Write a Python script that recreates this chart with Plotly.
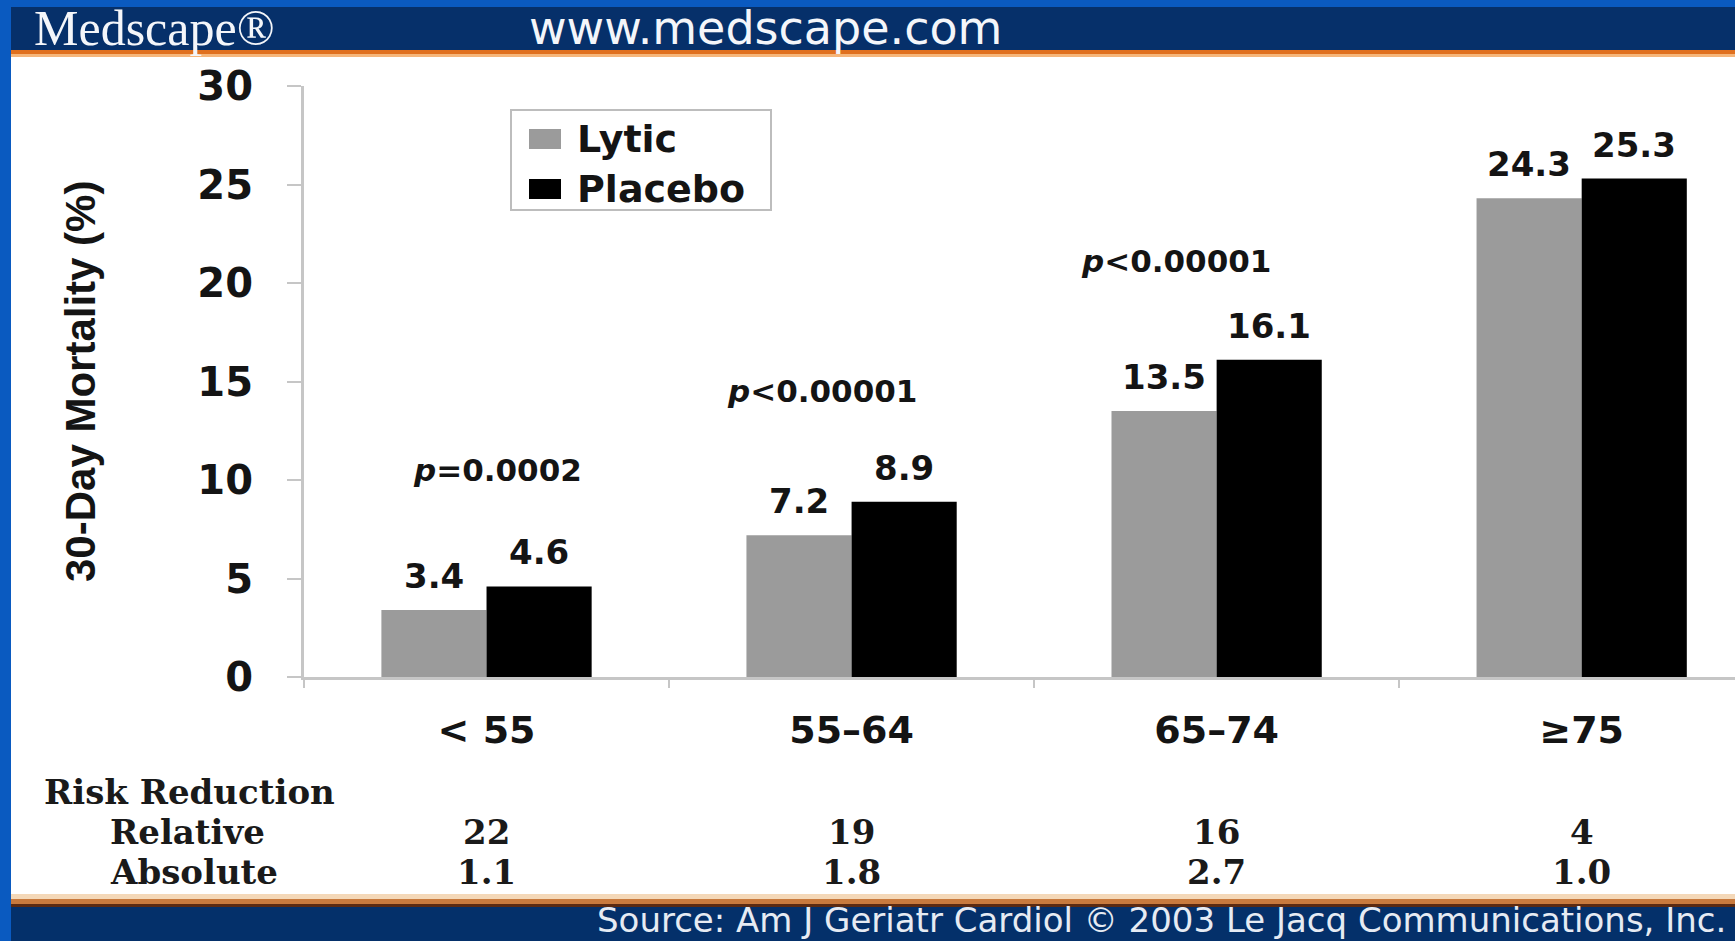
import plotly.graph_objects as go

# ---- data -------------------------------------------------------------
age_groups = ["< 55", "55–64", "65–74", "≥75"]
lytic = [3.4, 7.2, 13.5, 24.3]
placebo = [4.6, 8.9, 16.1, 25.3]
p_labels = ["<i>p</i>=0.0002", "<i>p</i>&lt;0.00001", "<i>p</i>&lt;0.00001", "<i>p</i>=NS"]
relative_reduction = [22, 19, 16, 4]
absolute_reduction = [1.1, 1.8, 2.7, 1.0]
y_ticks = [0, 5, 10, 15, 20, 25, 30]

# ---- page geometry ----------------------------------------------------
W, H = 1735, 941
ML, MR, MT, MB = 304, 0, 86, 264
PW, PH = W - ML - MR, H - MT - MB

# p-value label anchors (x in category units, y in axis units)
p_label_xy = [(0.03, 10.5), (0.92, 14.5), (1.89, 21.1), (2.95, 30.45)]
BAR_OFFSET = 0.144

SANS = "DejaVu Sans"
SERIF_TABLE = "DejaVu Serif"
INK = "#141414"
AXIS_GREY = "#c6c6c6"
LYTIC_GREY = "#9b9b9b"
PLACEBO_BLACK = "#000000"


def px_x(px):
    return (px - ML) / PW


def px_y(py):
    return (H - MB - py) / PH


fig = go.Figure()
fig.add_trace(go.Bar(name="Lytic", x=age_groups, y=lytic, showlegend=False,
                     marker=dict(color=LYTIC_GREY, line=dict(width=0))))
fig.add_trace(go.Bar(name="Placebo", x=age_groups, y=placebo, showlegend=False,
                     marker=dict(color=PLACEBO_BLACK, line=dict(width=0))))

annotations = []

# bar value labels
for i, (a, b) in enumerate(zip(lytic, placebo)):
    for xv, yv in ((i - BAR_OFFSET, a), (i + BAR_OFFSET, b)):
        annotations.append(dict(
            x=xv, y=yv, xref="x", yref="y", text=f"{yv:.1f}",
            showarrow=False, yanchor="bottom", yshift=12,
            font=dict(family=SANS, size=34, color=INK, weight="bold")))

# significance labels
for (xv, yv), txt in zip(p_label_xy, p_labels):
    annotations.append(dict(
        x=xv, y=yv, xref="x", yref="y", text=txt, showarrow=False,
        yanchor="middle", font=dict(family=SANS, size=31, color=INK, weight="bold")))

# y-axis title
annotations.append(dict(
    x=px_x(80), y=px_y(382), xref="paper", yref="paper",
    xanchor="center", yanchor="middle",
    text="30-Day Mortality (%)", textangle=-90, showarrow=False,
    font=dict(family="Liberation Sans Narrow, Liberation Sans", size=42,
              color=INK, weight="bold")))


def label(px, py, text, font, xanchor="left"):
    return dict(x=px_x(px), y=px_y(py), xref="paper", yref="paper",
                xanchor=xanchor, yanchor="middle", text=text,
                showarrow=False, font=font)


# risk reduction table
table_font = dict(family=SERIF_TABLE, size=34, color="#1a1a1a", weight="bold")
annotations.append(label(42, 792, "Risk Reduction", table_font))
annotations.append(label(108, 832, "Relative", table_font))
annotations.append(label(108, 872, "Absolute", table_font))
for i, (rel, ab) in enumerate(zip(relative_reduction, absolute_reduction)):
    annotations.append(dict(x=i, y=px_y(832), xref="x", yref="paper",
                            xanchor="center", yanchor="middle",
                            text=f"{rel}", showarrow=False, font=table_font))
    annotations.append(dict(x=i, y=px_y(872), xref="x", yref="paper",
                            xanchor="center", yanchor="middle",
                            text=f"{ab:.1f}", showarrow=False, font=table_font))

# legend
legend_font = dict(family=SANS, size=38, color=INK, weight="bold")
annotations.append(label(575, 139, "Lytic", legend_font))
annotations.append(label(575, 189, "Placebo", legend_font))

# header and footer text
annotations.append(label(32, 28, "Medscape®",
                         dict(family="Liberation Serif", size=50, color="#f4f6fa")))
annotations.append(label(527, 28, "www.medscape.com",
                         dict(family=SANS, size=46, color="#f4f6fa")))
annotations.append(label(1728, 920,
                         "Source: Am J Geriatr Cardiol © 2003 Le Jacq Communications, Inc.",
                         dict(family=SANS, size=34, color="#e6ebf3"), xanchor="right"))


def band(x0, x1, y0, y1, color, line=None, layer="below"):
    return dict(type="rect", xref="paper", yref="paper", layer=layer,
                x0=px_x(x0), x1=px_x(x1), y0=px_y(y1), y1=px_y(y0),
                fillcolor=color, line=line or dict(width=0))


shapes = [
    band(0, W, 0, 7, "#0a5ac0"),
    band(0, 11, 0, H, "#0a5ac0"),
    band(11, W, 7, 50, "#06306a"),
    band(11, W, 50, 54, "#e0701e"),
    band(11, W, 54, 57, "#f6b67a"),
    band(11, W, 894, 899, "#f4d8b8"),
    band(11, W, 899, 904, "#c87a3e"),
    band(11, W, 904, 907, "#5a2a12"),
    band(11, W, 907, H, "#04306a"),
    # legend frame and swatches
    band(511, 771, 110, 210, "rgba(0,0,0,0)",
         line=dict(color="#bdbdbd", width=2), layer="above"),
    band(529, 561, 129, 149, LYTIC_GREY, layer="above"),
    band(529, 561, 179, 199, PLACEBO_BLACK, layer="above"),
]

fig.update_layout(
    width=W, height=H,
    margin=dict(l=ML, r=MR, t=MT, b=MB, autoexpand=False),
    paper_bgcolor="#ffffff", plot_bgcolor="#ffffff",
    barmode="group", bargap=0.424, bargroupgap=0,
    showlegend=False,
    xaxis=dict(type="category", range=[-0.5, 3.42], showgrid=False,
               showline=True, linecolor=AXIS_GREY, linewidth=3,
               ticks="outside", tickson="boundaries", ticklen=8,
               tickcolor=AXIS_GREY, tickwidth=2, ticklabelstandoff=17,
               tickfont=dict(family=SANS, size=38, color=INK, weight="bold")),
    yaxis=dict(range=[0, 30], tickvals=y_ticks, showgrid=False, zeroline=False,
               showline=True, linecolor=AXIS_GREY, linewidth=3,
               ticks="outside", ticklen=14, tickcolor=AXIS_GREY, tickwidth=2,
               ticklabelstandoff=26,
               tickfont=dict(family=SANS, size=40, color=INK, weight="bold")),
    annotations=annotations,
    shapes=shapes,
)

fig.write_html("out.html")
